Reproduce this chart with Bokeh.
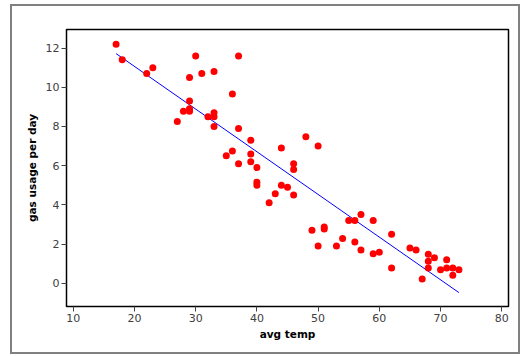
from bokeh.plotting import figure
from bokeh.models import ColumnDataSource, FixedTicker, Range1d
from bokeh.embed import file_html
from bokeh.resources import INLINE

avg_temp = [17, 18, 22, 23, 27, 28, 29, 29, 29, 29, 30, 31, 32, 33, 33, 33, 33,
            35, 36, 36, 37, 37, 37, 39, 39, 39, 40, 40, 40, 42, 43, 44, 44, 45,
            46, 46, 46, 48, 49, 50, 50, 51, 51, 53, 54, 55, 56, 56, 57, 57, 59,
            59, 60, 62, 62, 65, 66, 67, 68, 68, 68, 69, 70, 71, 71, 72, 72, 73]
gas_usage = [12.2, 11.4, 10.7, 11.0, 8.26, 8.78, 9.3, 8.78, 8.9, 10.5, 11.6, 10.7, 8.5, 10.8, 8.7, 8.5, 8.0,
             6.5, 9.66, 6.75, 11.6, 7.9, 6.1, 7.3, 6.6, 6.2, 5.9, 5.15, 5.0, 4.1, 4.57, 6.9, 5.0, 4.9,
             6.1, 5.8, 4.5, 7.47, 2.7, 7.0, 1.9, 2.87, 2.77, 1.9, 2.28, 3.2, 3.2, 2.1, 3.5, 1.7, 3.2,
             1.5, 1.58, 2.5, 0.78, 1.8, 1.7, 0.22, 1.48, 1.12, 0.78, 1.3, 0.68, 1.2, 0.78, 0.78, 0.4, 0.68]
fit_temp = [17, 73]
fit_gas = [11.72, -0.48]
x_ticks = [10, 20, 30, 40, 50, 60, 70, 80]
y_ticks = [0, 2, 4, 6, 8, 10, 12]

src = ColumnDataSource(dict(x=avg_temp, y=gas_usage))

p = figure(output_backend="svg", toolbar_location=None,
           frame_width=442, frame_height=277,
           min_border_left=54, min_border_right=10,
           min_border_top=23, min_border_bottom=46,
           x_range=Range1d(8.9, 81.1), y_range=Range1d(-1.19, 12.95))
p.styles = {"border": "2px solid #808080", "box-sizing": "border-box",
            "margin-left": "10px", "margin-top": "4px"}

p.line(fit_temp, fit_gas, line_color="#0000ff", line_width=1)
p.scatter("x", "y", source=src, size=7, fill_color="#ff0000", line_color=None)

p.xgrid.visible = False
p.ygrid.visible = False
p.outline_line_color = "#000000"
p.outline_line_width = 1.5
p.outline_line_alpha = 1

for ax, ticks in ((p.xaxis, x_ticks), (p.yaxis, y_ticks)):
    ax.ticker = FixedTicker(ticks=ticks)
    ax.minor_tick_line_color = None
    ax.major_tick_in = 0
    ax.major_tick_out = 5
    ax.major_tick_line_color = "#404040"
    ax.axis_line_color = "#000000"
    ax.major_label_text_font = "DejaVu Sans"
    ax.major_label_text_font_size = "11px"
    ax.major_label_text_color = "#404040"
    ax.axis_label_text_font = "DejaVu Sans"
    ax.axis_label_text_font_size = "10.5px"
    ax.axis_label_text_font_style = "bold"
    ax.axis_label_text_color = "#000000"
    ax.major_label_standoff = 2

p.xaxis.axis_label = "avg temp"
p.yaxis.axis_label = "gas usage per day"
p.xaxis.axis_label_standoff = 3
p.yaxis.axis_label_standoff = 5

open("out.html", "w").write(file_html(p, INLINE))
